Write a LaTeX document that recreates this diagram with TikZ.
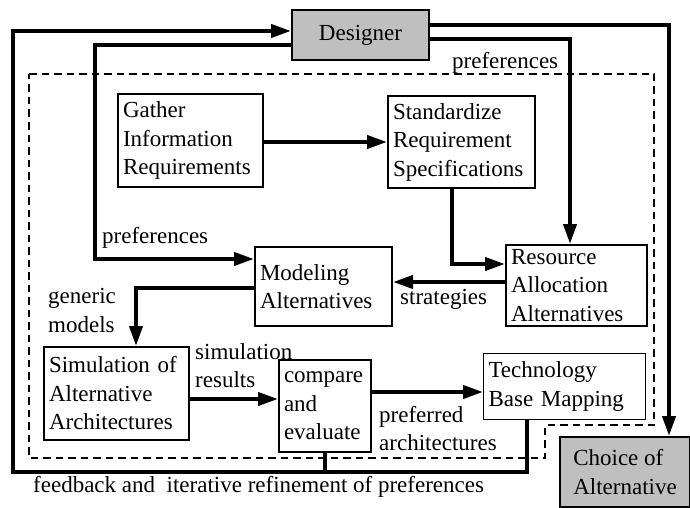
\documentclass[tikz,border=0pt]{standalone}
\usepackage{fontspec}
\setmainfont{Liberation Serif}
\usetikzlibrary{arrows.meta}
\definecolor{boxgray}{HTML}{BFBFBF}
\begin{document}
\begin{tikzpicture}[x=1pt,y=-1pt,
  txt/.style={font=\fontsize{23}{28.5}\selectfont, inner sep=0pt, align=left},
  box/.style={draw, line width=2pt, txt, inner xsep=5pt, anchor=north west},
  lbl/.style={txt, anchor=west},
  flow/.style={line width=4pt, -{Triangle[length=20pt,width=13pt]}},
  wire/.style={line width=4pt},
  region/.style={line width=2pt, dash pattern=on 7.5pt off 5pt},
  ]
\useasboundingbox (0,0) rectangle (690,508);

% process boundary
\draw[region] (29,74) -- (654,74) -- (654,425) -- (545,425) -- (545,458) -- (29,458) -- cycle;

% boxes
\node[box, fill=boxgray, minimum width=137pt, minimum height=50pt, align=center] (designer) at (291,9) {Designer};
\node[box, text width=135pt, minimum height=93pt] (gather) at (117,93) {Gather\\Information\\Requirements};
\node[box, text width=137pt, minimum height=92pt] (stand) at (387,95) {Standardize\\Requirement\\Specifications};
\node[box, text width=127pt, minimum height=79pt] (model) at (254,246) {Modeling\\Alternatives};
\node[box, text width=131pt, minimum height=81pt] (resource) at (505,244) {Resource\\Allocation\\Alternatives};
\node[box, text width=135pt, minimum height=93pt] (sim) at (43,346) {Simulation of\\Alternative\\Architectures};
\node[box, text width=82pt, minimum height=92pt] (compare) at (278,359) {compare\\and\\evaluate};
\node[box, line width=1pt, text width=152pt, minimum height=66pt] (tech) at (483,353) {Technology\\Base Mapping};
\node[box, fill=boxgray, minimum width=130pt, minimum height=70pt] (choice) at (559,436) {Choice of\\Alternative};

% bend points
\coordinate (oTL) at (13,31);
\coordinate (oBL) at (13,472);
\coordinate (oBR) at (527,472);
\coordinate (oTR) at (669,25);
\coordinate (pTL) at (95,45);
\coordinate (pL)  at (95,259);
\coordinate (pTR) at (570,39);
\coordinate (gs)  at (0,142);
\coordinate (sr)  at (452,264);
\coordinate (rm)  at (0,282);
\coordinate (ms)  at (136,288);
\coordinate (sc)  at (0,399);
\coordinate (ct)  at (0,392);

% feedback loop back to the designer
\draw[flow] (oBR |- tech.south) -- (oBR) -- (oBL) -- (oTL) -- (oTL -| designer.west);
\draw[wire] (compare.south) -- (compare.south |- oBL);

% designer preferences
\draw[flow] (pTL -| designer.west) -- (pTL) -- (pL) -- (pL -| model.west);
\draw[flow] (pTR -| designer.east) -- (pTR) -- (pTR |- resource.north);
\draw[flow] (oTR -| designer.east) -- (oTR) -- (oTR |- choice.north);

% main flow
\draw[flow] (gs -| gather.east) -- (gs -| stand.west);
\draw[flow] (sr |- stand.south) -- (sr) -- (sr -| resource.west);
\draw[flow] (rm -| resource.west) -- (rm -| model.east);
\draw[flow] (ms -| model.west) -- (ms) -- (ms |- sim.north);
\draw[flow] (sc -| sim.east) -- (sc -| compare.west);
\draw[flow] (ct -| compare.east) -- (ct -| tech.west);

% labels
\node[lbl] (lprefR) at (452,63) {preferences};
\node[lbl] (lprefL) at (102,238) {preferences};
\node[lbl] (lstrat) at (400,299) {strategies};
\node[lbl] (lgen) at (48,310.5) {generic\\models};
\node[lbl] (lsim) at (195,365.5) {simulation\\results};
\node[lbl] (lpref) at (379,428.5) {preferred\\architectures};
\node[lbl] (lfeed) at (33,487) {feedback and\ \ iterative refinement of preferences};
\end{tikzpicture}
\end{document}
